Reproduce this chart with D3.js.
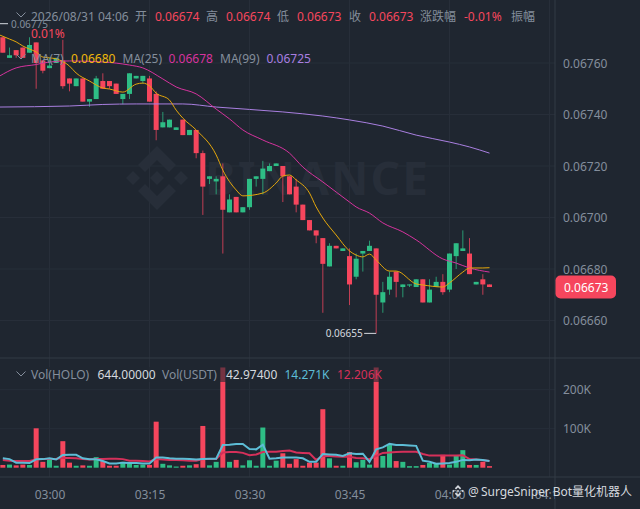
<!DOCTYPE html>
<html><head><meta charset="utf-8">
<script src="https://cdnjs.cloudflare.com/ajax/libs/d3/7.8.5/d3.min.js"></script>
<style>html,body{margin:0;padding:0;background:#1f2630;overflow:hidden}svg{display:block}
text{font-family:"Noto Sans","Noto Sans CJK SC",sans-serif}</style></head>
<body><svg id="c" width="640" height="509"></svg>
<script>
// minute index: 0 = 03:00. Prices in units of 0.00001
const firstIndex = -7;
const opens  = [6770,6762,6765,6766,6764,6768,6761,6758,6760,6761,6754,6751,6754,6745,6746,6753,6753,6752,6746,6748,6754,6753,6754,6748,6735,6735,6734,6738,6732,6734,6725,6715,6714,6716,6702,6708,6702,6704,6715,6715,6718,6720,6720,6716,6712,6705,6699,6695,6692,6681,6689,6687,6685,6677,6686,6687,6688,6667,6672,6679,6673,6674,6673,6676,6667,6673,6675,6672,6685,6687,6686,6674,6676,6674];
const highs  = [6770,6766,6765,6766,6770,6768,6761,6762,6762,6769,6754,6754,6754,6746,6755,6756,6753,6752,6748,6756,6755,6755,6755,6749,6741,6738,6735,6738,6734,6734,6726,6716,6716,6721,6709,6708,6704,6715,6716,6722,6721,6721,6720,6716,6715,6705,6699,6695,6692,6690,6689,6688,6688,6686,6687,6691,6688,6675,6679,6679,6674,6674,6676,6676,6676,6677,6678,6686,6690,6695,6692,6675,6678,6674];
const lows   = [6764,6762,6762,6762,6764,6750,6756,6758,6760,6750,6749,6751,6745,6743,6746,6750,6750,6748,6744,6746,6754,6752,6745,6730,6735,6735,6734,6732,6732,6723,6701,6713,6709,6686,6702,6702,6702,6703,6712,6709,6718,6720,6706,6709,6702,6699,6695,6690,6663,6681,6688,6687,6666,6676,6679,6687,6655,6663,6670,6669,6669,6673,6673,6667,6667,6673,6670,6671,6680,6687,6678,6674,6670,6673];
const closes = [6764,6763,6763,6762,6767,6760,6757,6759,6762,6751,6752,6754,6745,6746,6754,6750,6751,6748,6748,6756,6755,6755,6745,6734,6737,6738,6735,6732,6734,6725,6712,6716,6715,6703,6707,6702,6704,6715,6716,6719,6720,6721,6716,6709,6705,6699,6695,6693,6682,6689,6688,6688,6674,6684,6687,6689,6670,6671,6677,6675,6674,6674,6676,6667,6672,6675,6671,6686,6690,6688,6678,6675,6674,6673];
const vols   = [7,8,6,8,7,101,15,20,5,68,13,5,6,5,27,17,5,5,15,11,7,8,7,118,10,6,3,5,6,9,107,6,15,257,15,20,6,19,5,103,5,18,37,10,22,5,13,13,150,24,5,5,40,14,20,8,257,30,58,17,15,4,4,7,12,10,33,8,30,45,7,7,15,4];
const volCyan = [24,22,13,13,12,21.5,22,24,21,32.5,33,33,24,21.5,21.5,17,11,11,13,12,12,11,11,26,26,24,23,23,22,21,22,23,23,58,59,61,61,48,47,59,23,24,26,26,26,24,15,15,35,34,33,30,37,35,36,15,47,52,61,58,58,57,56,18,15,10,11,12,15,20,19,21,20,17];
const volRed  = [20,18,17,17,17,21,22,22,23,25,25,24,22,21,22,22,23,23,22,18,18,17,16,22,21,20,20,19,18,18,22,22,22,39,40,40,38,32,34,40,41,41,43,44,39,38,37,20,30,30,29,28,28,25,24,22,30,38,39,40,41,41,41,35,31,31,31,31,31,32,22,21,19,17];
const ma7Idx  = [-7.5,-6,-5,-4,-3,-2,-1,0,1,3,4,6,8,9,11,13,14,15,16,18,19,20,22,25,26,28,29,32,34,35,36,37,39,40,41,43,45,46,47,48,49,51,52,55,56,59,60,62,63,65,66];
const ma7Val  = [6770.9,6769.3,6768.2,6766.6,6765.4,6764.3,6762.3,6762,6761.6,6758.8,6756.1,6753,6750.3,6749.9,6748.7,6751.8,6752.2,6751.1,6748.3,6745.6,6741.7,6738.6,6734,6724.3,6718.4,6710.7,6708.4,6709.5,6713.4,6716.1,6716.5,6714.6,6709.5,6704.1,6699.8,6693.2,6687,6685.4,6684.7,6685.8,6683.5,6679.2,6679.2,6674.2,6673.8,6673,6674.6,6678.8,6680.4,6680.4,6680.5];
const ma25Idx = [-7.5,-5,-2,0,3,8,12,14,17,19,22,25,27,29,32,36,38,41,45,46,48,50,53,55,59,61,63,66];
const ma25Val = [6754.9,6758.1,6759.4,6760.4,6760.8,6760.4,6759.2,6758.1,6753.8,6750.7,6748,6742.1,6738.3,6734,6730.1,6725,6719.6,6713.8,6706,6704.1,6701.7,6697.9,6694.4,6691.3,6683.9,6682.3,6680.4,6678.8];
const ma99Idx = [-7.5,3,8,13,20,25,35,41,45,50,55,60,63,66];
const ma99Val = [6742.9,6743.3,6743.9,6744.1,6744.1,6742.9,6741,6739.4,6737.9,6735.5,6732,6729.3,6727.4,6725];
const priceTicks = [6760,6740,6720,6700,6680,6660];
const volTicks = [200,100];
const timeTicks = [0,15,30,45,60,75];
const timeLabels = ["03:00","03:15","03:30","03:45","04:00","04:15"];
const lowMark = {i:49, p:6655, label:"0.06655"};
const highMark = {p:6775, label:"0.06775"};
const lastPrice = {p:6673, label:"0.06673"};

const RED="#f6465d", GREEN="#2ebd85", GRID="#272e39", SEP="#333a45", MUTED="#848e9c", LIGHT="#d5d9df";
const svg=d3.select("#c");
const x=d3.scaleLinear().domain([0,15]).range([49.5,149.5]);
const y=d3.scaleLinear().domain([6760,6660]).range([63,320.5]);
const v=d3.scaleLinear().domain([0,200]).range([467.7,389.7]);
const candles=closes.map((c,k)=>({i:firstIndex+k,o:opens[k],h:highs[k],l:lows[k],c,vol:vols[k]}));
const col=d=>d.c>=d.o?GREEN:RED;

// grid
const grid=svg.append("g").attr("stroke",GRID).attr("stroke-width",1);
grid.selectAll(".gx").data(timeTicks).join("line").attr("x1",d=>x(d)).attr("x2",d=>x(d)).attr("y1",0).attr("y2",477);
grid.selectAll(".gy").data(priceTicks).join("line").attr("x1",0).attr("x2",555).attr("y1",d=>y(d)).attr("y2",d=>y(d));
grid.selectAll(".gv").data(volTicks).join("line").attr("x1",0).attr("x2",555).attr("y1",d=>v(d)).attr("y2",d=>v(d));

// watermark
const wm=svg.append("g").attr("fill","#272e39");
const logo=wm.append("g").attr("transform","translate(157,178)");
["0,-32 19,-13 12,-6 0,-18 -12,-6 -19,-13","0,32 19,13 12,6 0,18 -12,6 -19,13","0,-7 7,0 0,7 -7,0","24,-7 31,0 24,7 17,0","-24,-7 -17,0 -24,7 -31,0"]
 .forEach(p=>logo.append("polygon").attr("points",p));
wm.append("text").attr("x",205).attr("y",195).attr("font-size",46).attr("font-weight",700).attr("textLength",223).text("BINANCE");

// chart clip
svg.append("clipPath").attr("id","mp").append("rect").attr("x",0).attr("y",0).attr("width",555).attr("height",358);
const main=svg.append("g").attr("clip-path","url(#mp)");
main.selectAll(".w").data(candles).join("rect").attr("x",d=>x(d.i)-0.5).attr("width",1).attr("y",d=>y(d.h)).attr("height",d=>y(d.l)-y(d.h)).attr("fill",col).attr("opacity",0.75);
main.selectAll(".b").data(candles).join("rect").attr("x",d=>x(d.i)-2.5).attr("width",5)
 .attr("y",d=>y(Math.max(d.o,d.c))).attr("height",d=>Math.max(1,Math.abs(y(d.o)-y(d.c)))).attr("fill",col);
const mline=d3.line().x(d=>x(d[0])).y(d=>y(d[1])).curve(d3.curveMonotoneX);
[[ma99Idx,ma99Val,"#a97fe0"],[ma25Idx,ma25Val,"#d6339e"],[ma7Idx,ma7Val,"#e6a80b"]].forEach(([a,b,c])=>
 main.append("path").attr("d",mline(a.map((t,k)=>[t,b[k]]))).attr("fill","none").attr("stroke",c).attr("stroke-width",1));

// volume
const vg=svg.append("g");
vg.selectAll(".vb").data(candles).join("rect").attr("x",d=>x(d.i)-2.5).attr("width",5).attr("y",d=>v(d.vol)).attr("height",d=>v(0)-v(d.vol)).attr("fill",col);
const vline=d3.line().x((d,k)=>x(firstIndex+k)).y(d=>v(d));
vg.append("path").attr("d",vline(volRed)).attr("fill","none").attr("stroke","#d5305a").attr("stroke-width",2);
vg.append("path").attr("d",vline(volCyan)).attr("fill","none").attr("stroke","#5dbdd6").attr("stroke-width",2);
vg.append("rect").attr("x",16).attr("y",367).attr("width",365).attr("height",15).attr("fill","#1f2630").attr("opacity",0.6);

// separators
const sep=svg.append("g").attr("stroke",SEP);
sep.append("line").attr("x1",0).attr("x2",640).attr("y1",358).attr("y2",358);
sep.append("line").attr("x1",0).attr("x2",640).attr("y1",477).attr("y2",477);
sep.append("line").attr("x1",555).attr("x2",555).attr("y1",0).attr("y2",509);

// axes
svg.append("clipPath").attr("id","tp").append("rect").attr("x",0).attr("y",478).attr("width",555).attr("height",31);
const fmt=d=>"0."+String(d).padStart(5,"0");
const ax=d3.axisRight(y).tickValues(priceTicks).tickSize(0).tickPadding(8).tickFormat(fmt);
const ag=svg.append("g").attr("transform","translate(555,0.5)").call(ax);
const av=d3.axisRight(v).tickValues(volTicks).tickSize(0).tickPadding(8).tickFormat(d=>d+"K");
const avg=svg.append("g").attr("transform","translate(555,0)").call(av);
const at=d3.axisBottom(x).tickValues(timeTicks).tickSize(0).tickPadding(13).tickFormat((d,k)=>timeLabels[k]);
const atc=svg.append("g").attr("clip-path","url(#tp)");
const atg=atc.append("g").attr("transform","translate(0,477)").call(at);
[ag,avg,atg].forEach(g=>{g.select(".domain").remove();g.selectAll("text").attr("fill",MUTED).attr("font-size",12).attr("font-family",null);});

// mark labels
const anno=svg.append("g");
const tx=(px,py,t,c,fs=12,extra)=>{const e=anno.append("text").attr("x",px).attr("y",py).attr("dominant-baseline","central").attr("font-size",fs).attr("fill",c).text(t);if(extra)extra(e);return e;};
anno.append("line").attr("x1",x(lowMark.i)-12).attr("x2",x(lowMark.i)).attr("y1",y(lowMark.p)).attr("y2",y(lowMark.p)).attr("stroke",LIGHT);
tx(x(lowMark.i)-50.5,y(lowMark.p),lowMark.label,LIGHT,10);
anno.append("line").attr("x1",0).attr("x2",8).attr("y1",23.7).attr("y2",23.7).attr("stroke",LIGHT);
tx(11,24,highMark.label,MUTED,10);
anno.append("rect").attr("x",555.5).attr("y",y(lastPrice.p)-11.5).attr("width",60.5).attr("height",23).attr("rx",5).attr("fill",RED);
tx(564,y(lastPrice.p),lastPrice.label,"#ffffff",12);

// legend rows
const chev=(cx,cy)=>anno.append("path").attr("d",`M${cx-4.5},${cy-2.5}L${cx},${cy+2}L${cx+4.5},${cy-2.5}`).attr("fill","none").attr("stroke",MUTED);
chev(21,15);chev(21,57);chev(21,374);
const H=16;
[[31,"2026/08/31 04:06",MUTED],[135,"开",MUTED],[155,"0.06674",RED],[206,"高",MUTED],[226,"0.06674",RED],[277,"低",MUTED],[297,"0.06673",RED],[349,"收",MUTED],[369,"0.06673",RED],[420,"涨跌幅",MUTED],[464,"-0.01%",RED],[511,"振幅",MUTED]]
 .forEach(r=>tx(r[0],H,r[1],r[2]));
tx(31,33,"0.01%",RED);
[[31,"MA(7)",MUTED],[71,"0.06680","#f0b90b"],[122.5,"MA(25)",MUTED],[168.5,"0.06678","#d6339e"],[220,"MA(99)",MUTED],[266.5,"0.06725","#a97fe0"]]
 .forEach(r=>tx(r[0],58,r[1],r[2]));
[[31,"Vol(HOLO)",MUTED],[97.5,"644.00000",LIGHT],[162,"Vol(USDT)",MUTED],[226,"42.97400",LIGHT],[284.5,"14.271K","#5dbdd6"],[337,"12.206K","#d5305a"]]
 .forEach(r=>tx(r[0],374.5,r[1],r[2]));

// source credit
const cr=svg.append("g").attr("transform","translate(458,491)").attr("fill","#d5d9df");
["0,-6 3.2,-2.8 2,-1.6 0,-3.6 -2,-1.6 -3.2,-2.8","0,6 3.2,2.8 2,1.6 0,3.6 -2,1.6 -3.2,2.8","0,-1.2 1.2,0 0,1.2 -1.2,0","4.6,-1.2 5.8,0 4.6,1.2 3.4,0","-4.6,-1.2 -3.4,0 -4.6,1.2 -5.8,0"]
 .forEach(p=>cr.append("polygon").attr("points",p));
tx(468,491,"@",LIGHT,12);
tx(481,491,"SurgeSniper Bot量化机器人",LIGHT,12,e=>e.attr("textLength",151));
</script></body></html>
